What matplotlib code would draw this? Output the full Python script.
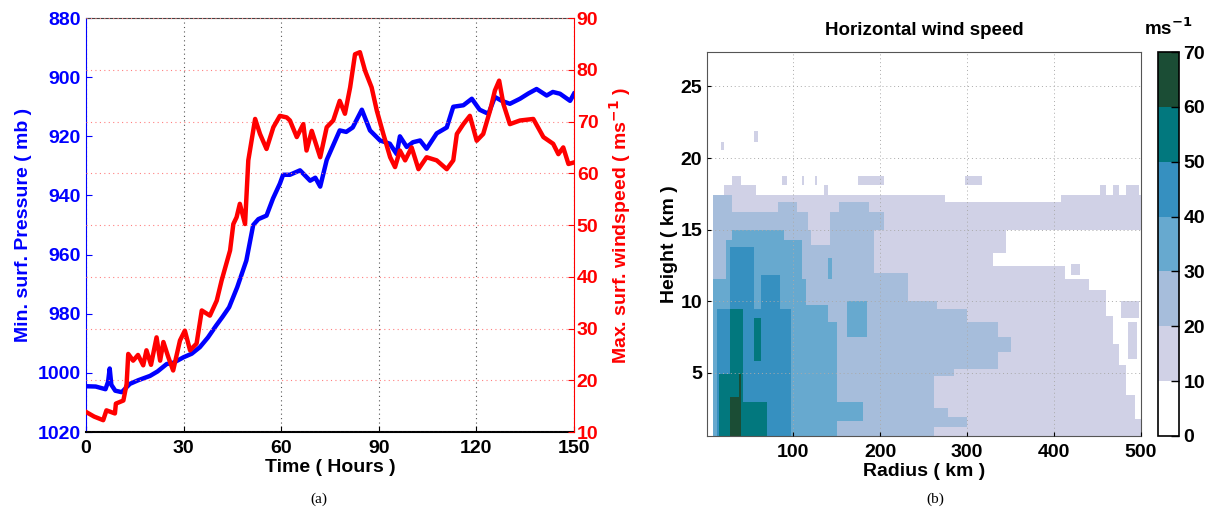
import numpy as np
import matplotlib
matplotlib.use("Agg")
import matplotlib.pyplot as plt
from matplotlib.colors import ListedColormap, BoundaryNorm

plt.rcParams['font.family'] = ['Liberation Sans', 'DejaVu Sans']
plt.rcParams['font.weight'] = 'bold'
plt.rcParams['axes.labelweight'] = 'bold'
plt.rcParams['axes.titleweight'] = 'bold'
plt.rcParams['mathtext.default'] = 'bf'

# ---- panel (a): readings from the time series ----
t_pres = [0, 3, 6, 6.8, 7.3, 7.8, 9, 11, 13.5, 16, 19.7, 22, 24.8, 27, 30, 32.5, 35,
          37.5, 40, 42, 44, 46.5, 49.3, 51.4, 53, 55.5, 57.5, 59.6, 60.6, 62.7, 65.8,
          68.9, 70.5, 72, 74, 76, 78, 80, 82, 84.8, 87.3, 90.4, 93.4, 95.5, 96.5, 98.6,
          100.5, 102.7, 104.7, 107.8, 110.9, 112.9, 116, 118.6, 121, 123.7, 125.7,
          127.8, 130.3, 133.4, 136, 138.5, 141.6, 143.5, 145.7, 148.8, 150]
pres = [1004.5, 1004.6, 1005.5, 1003, 998.5, 1004, 1006, 1006.5, 1003.7, 1002.5,
        1001, 999.5, 997, 996.5, 994.7, 993.5, 991.3, 988, 984, 981, 977.8, 971, 962,
        950, 948, 946.8, 941, 936, 933, 933, 931.5, 935, 934, 937, 928, 923, 918,
        918.5, 917, 911, 918, 921.4, 922.5, 926, 920, 923.6, 922, 921.4, 924.2, 919,
        917, 910, 909.5, 907.3, 911, 912.4, 906.7, 908, 909, 907.3, 905.5, 904, 906.2,
        905, 905.6, 908, 905.6]

t_wind = [0, 2.5, 5.3, 6.3, 8.9, 9.2, 11.5, 12.5, 13, 14.5, 16, 17.6, 18.6, 20, 21.7,
          22.8, 23.8, 25.3, 26.8, 28.9, 30.4, 32, 34, 35.6, 38.1, 40.2, 41.7, 44.3,
          45.3, 46.3, 47.3, 48.9, 49.9, 50.9, 52, 53.5, 55.5, 57.6, 59.6, 61.7, 62.7,
          64.8, 66.8, 67.8, 69.4, 72, 74, 76, 78, 79.6, 81.2, 82.7, 84.2, 85.8, 87.8,
          89.4, 91.4, 93.5, 95, 96.5, 98.1, 100.1, 102.2, 104.7, 107.8, 110.9, 112.9,
          114, 116, 118, 120.1, 122.1, 124.2, 125.7, 127, 128.3, 130.3, 133.4, 137.5,
          140.6, 143.6, 145.2, 146.7, 148.3, 150]
wind = [13.9, 13.0, 12.3, 14.2, 13.6, 15.5, 16.1, 19.3, 25.1, 23.8, 24.9, 22.9, 25.8,
        23.0, 28.3, 23.8, 27.4, 24.5, 21.9, 27.7, 29.6, 25.8, 27.1, 33.5, 32.5, 35.4,
        39.3, 45.1, 50.2, 51.5, 54.1, 50.2, 62.5, 66.3, 70.5, 67.6, 64.7, 68.9, 71.1,
        70.8, 70.2, 67, 69.5, 64.4, 68.2, 63.1, 68.9, 70.2, 74, 71.5, 76.6, 83, 83.4,
        79.8, 76.6, 72.1, 67.6, 63.1, 61.2, 64.4, 62.5, 65, 60.8, 63.1, 62.5, 60.8,
        62.5, 67.6, 69.5, 71.1, 66.3, 67.6, 72.1, 76, 77.9, 73.4, 69.5, 70.2, 70.5,
        67, 65.7, 63.7, 65, 61.8, 62.1]

# ---- panel (b): regions (radius r0-r1 km, height h0-h1 km) reaching each level ----
spd_levels = [0, 10, 20, 30, 40, 50, 60, 70]
spd_colors = ['#ffffff', '#d0d1e6', '#a6bddb', '#67a9cf', '#3690c0', '#02787e', '#1b4d35']

ge10 = [(7, 500, 0.6, 1.8), (7, 492, 1.8, 3.5), (7, 482, 3.5, 5.5), (7, 475, 5.5, 7.0),
        (484, 495, 6.0, 8.5), (7, 468, 7.0, 9.0), (478, 498, 8.8, 10.0),
        (7, 460, 9.0, 10.8), (7, 440, 10.8, 11.6), (7, 412, 11.6, 12.4),
        (420, 430, 11.8, 12.6), (7, 330, 12.4, 13.3), (7, 345, 13.3, 15.0),
        (7, 500, 15.0, 16.9), (7, 275, 16.9, 17.45), (407, 500, 16.9, 17.45),
        (20, 58, 17.45, 18.1), (135, 140, 17.45, 18.1), (453, 461, 17.45, 18.1),
        (467, 475, 17.45, 18.1), (483, 498, 17.45, 18.1),
        (30, 41, 18.1, 18.7), (87, 93, 18.1, 18.7), (111, 113, 18.1, 18.7),
        (126, 128, 18.1, 18.7), (175, 205, 18.1, 18.7), (298, 317, 18.1, 18.7),
        (18, 21, 20.6, 21.2), (54, 59, 21.2, 21.9)]
ge20 = [(8, 262, 0.6, 1.2), (8, 300, 1.2, 1.9), (8, 277, 1.9, 2.5), (8, 263, 2.5, 4.8),
        (8, 284, 4.8, 5.3), (8, 334, 5.3, 6.5), (8, 349, 6.5, 7.5), (8, 335, 7.5, 8.5),
        (8, 300, 8.5, 9.5), (8, 265, 9.5, 10.1), (8, 232, 10.1, 12.0),
        (8, 192, 12.0, 14.0), (8, 120, 14.0, 15.0), (142, 192, 14.0, 15.0),
        (8, 118, 15.0, 16.2), (142, 206, 15.0, 16.2), (8, 30, 16.2, 17.45),
        (83, 104, 16.2, 16.9), (152, 188, 16.2, 16.9)]
ge30 = [(8, 150, 0.6, 8.5), (8, 180, 1.6, 3.0), (8, 140, 8.5, 9.8), (8, 115, 9.8, 11.5),
        (162, 185, 7.5, 10.0), (22, 110, 11.5, 14.3), (30, 90, 14.3, 15.0),
        (139, 145, 11.5, 13.0)]
ge40 = [(12, 97, 0.6, 9.5), (28, 54, 9.5, 13.8), (62, 85, 9.5, 11.8)]
ge50 = [(14, 70, 0.6, 3.0), (14, 43, 3.0, 5.0), (27, 43, 5.0, 9.4), (54, 62, 5.8, 8.8)]
ge60 = [(27, 39, 0.6, 3.3), (37, 40, 3.3, 5.0)]

r_edges = np.arange(0, 502.5, 2.5)
h_edges = np.arange(0.6, 27.5, 0.15)
rc = 0.5 * (r_edges[:-1] + r_edges[1:])
hc = 0.5 * (h_edges[:-1] + h_edges[1:])
R, Hh = np.meshgrid(rc, hc)
spd = np.full(R.shape, 5.0)
for lvl, boxes in zip([10, 20, 30, 40, 50, 60], [ge10, ge20, ge30, ge40, ge50, ge60]):
    for r0, r1, h0, h1 in boxes:
        spd[(R >= r0) & (R < r1) & (Hh >= h0) & (Hh < h1)] = lvl + 5

fig = plt.figure(figsize=(12.14, 5.15), dpi=100)

# ---------------- panel (a) ----------------
ax1 = fig.add_axes([0.0708, 0.161, 0.402, 0.804])
ax1.plot(t_pres, pres, color='#0000ff', lw=3.2, zorder=3)
ax1.set_xlim(0, 150)
ax1.set_ylim(1020, 880)
ax1.set_xticks([0, 30, 60, 90, 120, 150])
ax1.set_yticks([880, 900, 920, 940, 960, 980, 1000, 1020])
ax1.tick_params(axis='y', colors='#0000ff', labelsize=14, direction='in', length=4)
ax1.tick_params(axis='x', colors='black', labelsize=14, direction='in', length=4, pad=6)
ax1.set_xlabel('Time ( Hours )', fontsize=14, labelpad=1)
ax1.set_ylabel('Min. surf. Pressure ( mb )', fontsize=14, color='#0000ff', labelpad=4)
ax1.xaxis.grid(True, color='#555555', linestyle=(0, (1, 3)), lw=0.8)
ax1.spines['left'].set_color('#0000ff')
ax1.spines['top'].set_color('#444444')
ax1.spines['right'].set_visible(False)
ax1.spines['bottom'].set_linewidth(1.5)

ax2 = ax1.twinx()
ax2.plot(t_wind, wind, color='#ff0000', lw=3.2, zorder=3)
ax2.set_ylim(10, 90)
ax2.set_yticks([10, 20, 30, 40, 50, 60, 70, 80, 90])
ax2.tick_params(axis='y', colors='#ff0000', labelsize=14, direction='in', length=4, pad=2)
ax2.set_ylabel('Max. surf. windspeed ( ms$^{-1}$ )', fontsize=14, color='#ff0000', labelpad=6)
ax2.yaxis.grid(True, color='#ff8080', linestyle=(0, (1, 3)), lw=0.8)
ax2.spines['right'].set_color('#ff0000')
ax2.spines['left'].set_visible(False)
ax2.spines['top'].set_visible(False)
ax2.spines['bottom'].set_visible(False)

fig.text(0.2628, 0.03, '(a)', fontsize=11, fontweight='normal', family='Liberation Serif',
         ha='center', va='center')

# ---------------- panel (b) ----------------
cmap = ListedColormap(spd_colors)
norm = BoundaryNorm(spd_levels, cmap.N)
ax3 = fig.add_axes([0.5824, 0.1534, 0.3575, 0.7456])
mesh = ax3.pcolormesh(r_edges, h_edges, spd, cmap=cmap, norm=norm, shading='flat',
                      rasterized=True)
ax3.set_xlim(1, 500)
ax3.set_ylim(0.6, 27.4)
ax3.set_xticks([100, 200, 300, 400, 500])
ax3.set_yticks([5, 10, 15, 20, 25])
ax3.tick_params(labelsize=14, direction='in', length=3, colors='black')
ax3.tick_params(axis='x', pad=6)
ax3.grid(True, color='#aaaaaa', linestyle=(0, (1, 3)), lw=0.7)
ax3.set_axisbelow(False)
for sp in ax3.spines.values():
    sp.set_color('#555555')
ax3.set_xlabel('Radius ( km )', fontsize=14, labelpad=1)
ax3.set_ylabel('Height ( km )', fontsize=14, labelpad=2)
ax3.set_title('Horizontal wind speed', fontsize=13.5, pad=12)

cax = fig.add_axes([0.9535, 0.1534, 0.0173, 0.7456])
cb = fig.colorbar(mesh, cax=cax, ticks=spd_levels)
cb.ax.tick_params(labelsize=14, length=6, direction='in', width=1)
cb.outline.set_linewidth(1.2)
cax.set_title('ms$^{-1}$', fontsize=13.5, pad=12)

fig.text(0.7703, 0.03, '(b)', fontsize=11, fontweight='normal', family='Liberation Serif',
         ha='center', va='center')

fig.savefig('out.png', dpi=100)
